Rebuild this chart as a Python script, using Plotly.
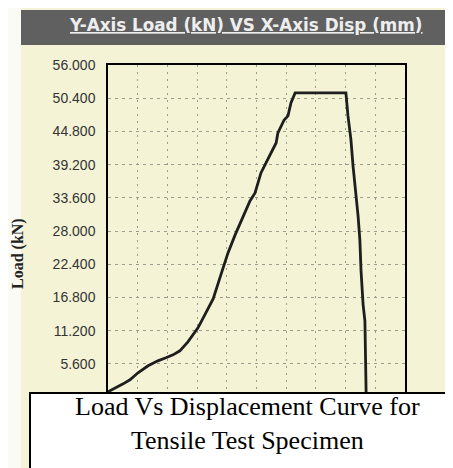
import plotly.graph_objects as go

# ---- data ----
disp_mm = [0.00, 0.27, 0.51, 0.74, 1.01, 1.35, 1.68, 1.95, 2.19, 2.42, 2.69, 3.03, 3.27,
           3.54, 3.80, 4.04, 4.28, 4.48, 4.78, 4.95, 5.05, 5.15, 5.32, 5.45, 5.56, 5.66,
           5.72, 5.82, 5.93, 6.06, 6.16, 6.30, 8.01, 8.08, 8.18, 8.25, 8.35, 8.42, 8.48,
           8.52, 8.59, 8.65, 8.69, 8.69]
load_kn = [0.88, 1.55, 2.22, 2.90, 4.08, 5.26, 6.10, 6.61, 7.11, 7.79, 9.30, 11.66, 14.02,
           16.55, 20.60, 24.30, 27.34, 29.70, 33.07, 34.42, 36.10, 37.79, 39.48, 40.82, 41.67,
           42.85, 44.54, 45.72, 46.73, 47.41, 49.60, 51.29, 51.29, 47.41, 43.36, 38.98, 34.42,
           30.55, 26.50, 21.28, 15.54, 12.84, 1.05, 0.0]
y_ticks = [5.6, 11.2, 16.8, 22.4, 28.0, 33.6, 39.2, 44.8, 50.4, 56.0]
chart_title = "Y-Axis Load (kN) VS X-Axis Disp (mm)"
y_title = "Load (kN)"
caption = "Load Vs Displacement Curve for<br>Tensile Test Specimen"

# ---- layout geometry (pixels) ----
W, H = 453, 468
L, T = 100, 57
PW, PH = 297, 332


def px(x):
    return (x - L) / PW


def py(y):
    return (T + PH - y) / PH


BG = "#f5f3d6"

fig = go.Figure()
fig.add_trace(go.Scatter(x=disp_mm, y=load_kn, mode="lines",
                         line=dict(color="#1e1e1e", width=2.8), hoverinfo="skip"))

shapes = [
    # left white margin
    dict(type="rect", xref="paper", yref="paper", x0=px(-5), x1=px(13), y0=py(480), y1=py(-5),
         fillcolor="#fbfbf6", line=dict(width=0), layer="below"),
    # title band
    dict(type="rect", xref="paper", yref="paper", x0=px(13), x1=px(460), y0=py(37), y1=py(2),
         fillcolor="#606060", line=dict(width=0), layer="above"),
    # caption box
    dict(type="rect", xref="paper", yref="paper", x0=px(22), x1=px(470), y0=py(480), y1=py(385),
         fillcolor="white", line=dict(color="black", width=2), layer="above"),
]

annotations = [
    dict(text="<u>" + chart_title + "</u>", xref="paper", yref="paper", x=px(238), y=py(17),
         xanchor="center", yanchor="middle", showarrow=False,
         font=dict(family="DejaVu Sans", size=16.8, color="#eeeeee", weight="bold")),
    dict(text="<b>" + y_title + "</b>", xref="paper", yref="paper", x=px(10), y=py(246),
         xanchor="center", yanchor="middle", textangle=-90, showarrow=False,
         font=dict(family="Liberation Serif", size=16, color="#222222")),
    dict(text=caption, xref="paper", yref="paper", x=px(239), y=py(416),
         xanchor="center", yanchor="middle", showarrow=False, align="center",
         font=dict(family="Liberation Serif", size=26, color="black")),
]

fig.update_layout(
    width=W, height=H,
    margin=dict(l=L, r=W - L - PW, t=T, b=H - T - PH, pad=0),
    paper_bgcolor=BG, plot_bgcolor=BG,
    showlegend=False,
    shapes=shapes, annotations=annotations,
    xaxis=dict(range=[0, 10], dtick=1, showticklabels=False, ticks="",
               showgrid=True, gridcolor="#9c9c8c", gridwidth=1, griddash="2px,5px",
               showline=True, linecolor="black", linewidth=1.5, mirror=True, zeroline=False),
    yaxis=dict(range=[0, 56], tickvals=y_ticks, tickformat=".3f", ticks="",
               ticklabelstandoff=8,
               tickfont=dict(family="Liberation Sans", size=14, color="#333333"),
               showgrid=True, gridcolor="#9c9c8c", gridwidth=1, griddash="3px,4px",
               showline=True, linecolor="black", linewidth=1.5, mirror=True, zeroline=False),
)

fig.write_html("out.html")
